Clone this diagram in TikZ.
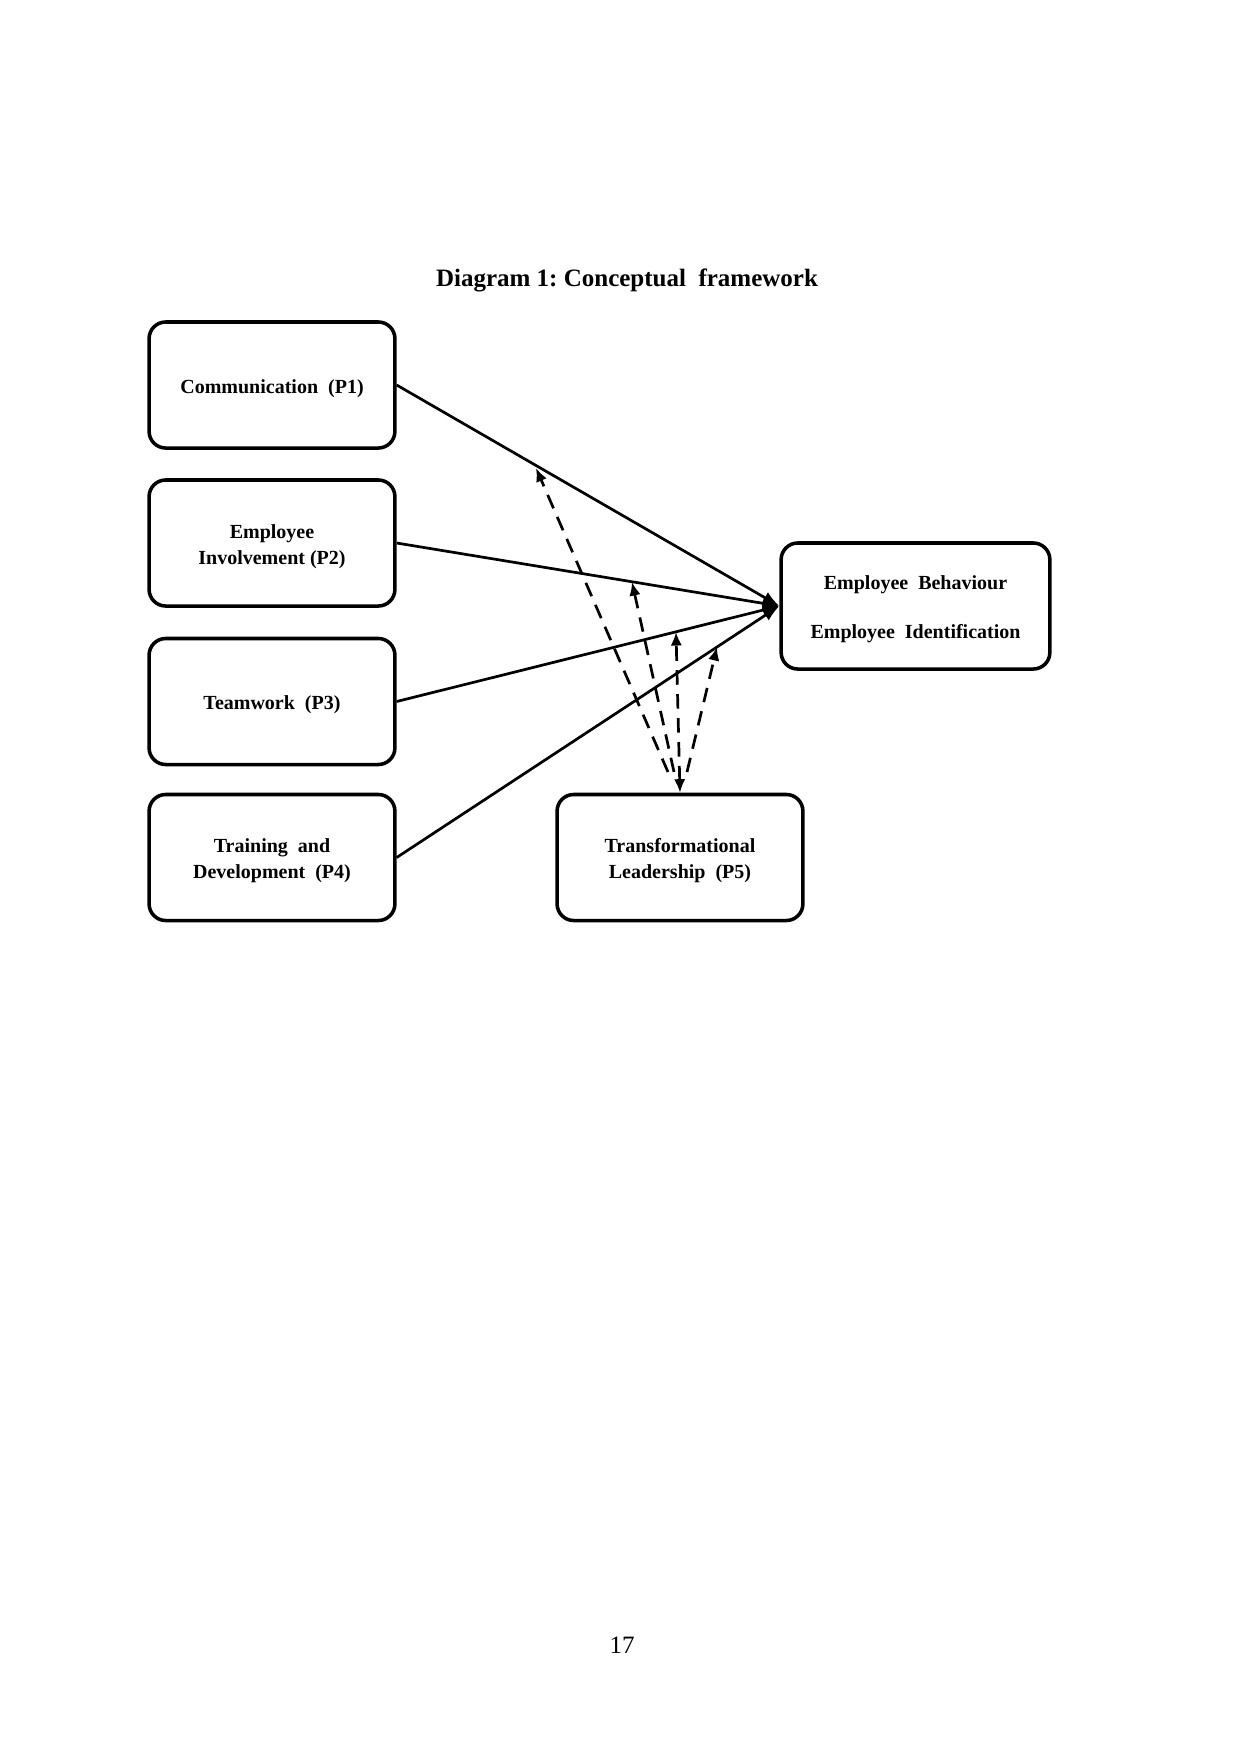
\documentclass[tikz,border=0pt]{standalone}
\usepackage{fontspec}
\setmainfont{Liberation Serif}
\usetikzlibrary{arrows.meta}
\frenchspacing
\newcommand{\lowstrut}{\rule{0pt}{10pt}}
\begin{document}
\begin{tikzpicture}[x=0.48pt,y=-0.48pt,
  box/.style={draw,line width=1.7pt,rounded corners=8pt,minimum width=118pt,minimum height=60.5pt,align=center,font=\bfseries\fontsize{9.6}{12.5}\selectfont,inner sep=2pt},
  link/.style={line width=1.3pt,-{Latex[length=8pt,width=6pt]}},
  dlink/.style={line width=1.3pt,dashed,dash pattern=on 7pt off 4.5pt,-{Latex[length=6.5pt,width=5.5pt]}}
]
\useasboundingbox[fill=white] (0,0) rectangle (1240,1755);
\node[font=\bfseries\fontsize{12}{14}\selectfont] (title) at (627,280) {Diagram 1: Conceptual\ \ framework};
\node[box] (p1) at (272,385) {\lowstrut Communication\ \ (P1)};
\node[box] (p2) at (272,543) {\lowstrut Employee\\Involvement\ (P2)};
\node[box] (p3) at (272,701.5) {\lowstrut Teamwork\ \ (P3)};
\node[box] (p4) at (272,857.5) {\lowstrut Training\ \ and\\Development\ \ (P4)};
\node[box,minimum width=129pt] (eb) at (915.5,606) {\lowstrut Employee\ \ Behaviour\\[11pt]Employee\ \ Identification};
\node[box] (p5) at (680,857.5) {\lowstrut Transformational\\Leadership\ \ (P5)};
\node[font=\fontsize{12}{14}\selectfont] (pg) at (622,1645) {17};
\foreach \s in {p1,p2,p3,p4} \draw[link] (\s.east) -- (eb.west);
\coordinate (t1) at (536,468);
\coordinate (t2) at (632,582);
\coordinate (t3) at (676,632);
\coordinate (t4) at (717,647);
\coordinate (s1) at (668,772);
\coordinate (s2) at (674,772);
\coordinate (s4) at (687,772);
\draw[dlink] (s1) -- (t1);
\draw[dlink] (s2) -- (t2);
\draw[dlink,{Latex[length=6.5pt,width=5.5pt]}-{Latex[length=6.5pt,width=5.5pt]}] (p5.north) -- (t3);
\draw[dlink] (s4) -- (t4);
\end{tikzpicture}
\end{document}
